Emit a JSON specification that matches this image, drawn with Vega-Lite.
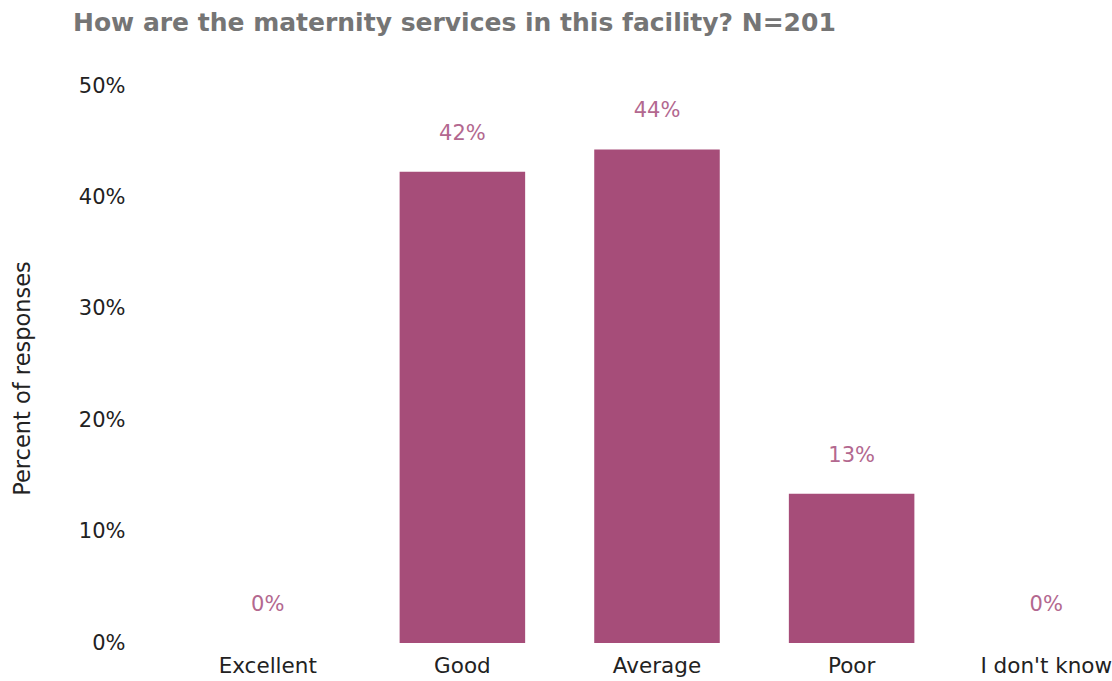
{
  "$schema": "https://vega.github.io/schema/vega-lite/v6.json",
  "width": 904,
  "height": 557,
  "autosize": "none",
  "padding": {"left": 205, "top": 86, "right": 3, "bottom": 38},
  "background": "white",
  "title": {
    "text": "How are the maternity services in this facility? N=201",
    "anchor": "start",
    "frame": "group",
    "dx": -132,
    "offset": 39,
    "font": "DejaVu Sans",
    "fontSize": 25,
    "fontWeight": "bold",
    "color": "#757575"
  },
  "data": {
    "values": [
      {"category": "Excellent", "pct": 0},
      {"category": "Good", "pct": 0.423},
      {"category": "Average", "pct": 0.443},
      {"category": "Poor", "pct": 0.134},
      {"category": "I don't know", "pct": 0}
    ]
  },
  "config": {"view": {"stroke": null}},
  "encoding": {
    "x": {
      "field": "category",
      "type": "nominal",
      "sort": null,
      "scale": {"paddingInner": 0.355, "paddingOuter": 0},
      "axis": {
        "title": null,
        "labelAngle": 0,
        "domain": false,
        "ticks": false,
        "tickSize": 0,
        "labelPadding": 12,
        "labelFont": "DejaVu Sans",
        "labelFontSize": 21.5,
        "labelColor": "#222222"
      }
    },
    "y": {
      "field": "pct",
      "type": "quantitative",
      "scale": {"domain": [0, 0.5], "nice": false},
      "axis": {
        "title": "Percent of responses",
        "values": [0, 0.1, 0.2, 0.3, 0.4, 0.5],
        "format": ".0%",
        "grid": false,
        "domain": false,
        "ticks": false,
        "tickSize": 0,
        "labelPadding": 80,
        "labelFont": "DejaVu Sans",
        "labelFontSize": 21,
        "labelColor": "#222222",
        "titleFont": "DejaVu Sans",
        "titleFontSize": 22.5,
        "titleFontWeight": "normal",
        "titleColor": "#222222",
        "titleAngle": -90,
        "titleX": -183,
        "titleY": 292,
        "titleAlign": "center",
        "titleBaseline": "middle"
      }
    }
  },
  "layer": [
    {"mark": {"type": "bar", "color": "#a64d79"}},
    {
      "mark": {
        "type": "text",
        "dy": -38,
        "baseline": "middle",
        "font": "DejaVu Sans",
        "fontSize": 21,
        "color": "#b3688f"
      },
      "encoding": {"text": {"field": "pct", "type": "quantitative", "format": ".0%"}}
    }
  ]
}
